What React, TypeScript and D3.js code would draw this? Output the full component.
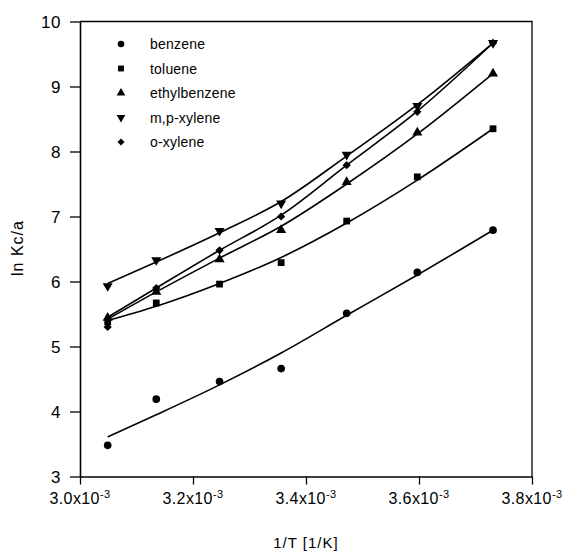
import React, { useEffect, useRef } from "react";
import * as d3 from "d3";

// 1/T values (1/K) for the measured temperatures
const invT = [3.049e-3, 3.135e-3, 3.247e-3, 3.356e-3, 3.472e-3, 3.597e-3, 3.731e-3];

// measured ln Kc/a
const benzene = [3.48, 4.19, 4.46, 4.66, 5.51, 6.14, 6.79];
const toluene = [5.38, 5.67, 5.96, 6.29, 6.93, 7.61, 8.35];
const ethylbenzene = [5.44, 5.84, 6.34, 6.79, 7.53, 8.29, 9.2];
const mpXylene = [5.93, 6.33, 6.78, 7.2, 7.95, 8.7, 9.67];
const oXylene = [5.3, 5.9, 6.48, 7.0, 7.79, 8.61, 9.67];

// fitted curves read at the same 1/T values
const benzeneFit = [3.61, 3.95, 4.41, 4.9, 5.48, 6.1, 6.79];
const tolueneFit = [5.4, 5.62, 5.97, 6.37, 6.9, 7.56, 8.35];
const ethylbenzeneFit = [5.42, 5.84, 6.36, 6.85, 7.5, 8.27, 9.2];
const mpXyleneFit = [5.97, 6.3, 6.75, 7.23, 7.93, 8.72, 9.67];
const oXyleneFit = [5.45, 5.9, 6.48, 7.02, 7.79, 8.62, 9.67];

const seriesNames = ["benzene", "toluene", "ethylbenzene", "m,p-xylene", "o-xylene"];
const xTicks = [3.0e-3, 3.2e-3, 3.4e-3, 3.6e-3, 3.8e-3];
const yTicks = [3, 4, 5, 6, 7, 8, 9, 10];

const W = 567;
const H = 558;
const FONT = "'Liberation Sans', Arial, sans-serif";

export default function App() {
  const ref = useRef<SVGSVGElement | null>(null);

  useEffect(() => {
    const svg = d3.select(ref.current);
    svg.selectAll("*").remove();

    const x = d3.scaleLinear().domain([3.0e-3, 3.8e-3]).range([80, 532]);
    const y = d3.scaleLinear().domain([3, 10]).range([476.5, 21.5]);

    const symbols = [
      d3.symbolCircle,
      d3.symbolSquare,
      d3.symbolTriangle,
      d3.symbolTriangle,
      d3.symbolSquare,
    ];
    const sizes = [46, 46, 44, 44, 34];
    const rotations = [0, 0, 0, 180, 45];

    const pts = [benzene, toluene, ethylbenzene, mpXylene, oXylene];
    const fits = [benzeneFit, tolueneFit, ethylbenzeneFit, mpXyleneFit, oXyleneFit];

    const g = svg.append("g");

    // frame (top and right)
    g.append("path")
      .attr("d", `M${x(3.0e-3)},${y(10)}H${x(3.8e-3)}V${y(3)}`)
      .attr("fill", "none")
      .attr("stroke", "#000")
      .attr("stroke-width", 1.3);

    // x axis
    const xAxis = g.append("g")
      .attr("transform", `translate(0, ${y(3)})`)
      .call(d3.axisBottom(x).tickValues(xTicks).tickSizeInner(8).tickSizeOuter(0).tickFormat(() => ""));
    xAxis.select(".domain").attr("stroke-width", 1.6);
    xAxis.selectAll("line").attr("stroke-width", 1.3);

    // y axis
    const yAxis = g.append("g")
      .attr("transform", `translate(${x(3.0e-3)}, 0)`)
      .call(d3.axisLeft(y).tickValues(yTicks).tickSizeInner(10).tickSizeOuter(0).tickFormat(() => ""));
    yAxis.select(".domain").attr("stroke-width", 1.6);
    yAxis.selectAll("line").attr("stroke-width", 1.3);

    // x tick labels with superscript exponent
    xTicks.forEach((t) => {
      const txt = g.append("text")
        .attr("x", x(t))
        .attr("y", 504)
        .attr("text-anchor", "middle")
        .attr("font-family", FONT)
        .attr("font-size", 16)
        .attr("letter-spacing", 0.4)
        .attr("fill", "#000");
      txt.append("tspan").text(`${(t * 1000).toFixed(1)}x10`);
      txt.append("tspan").attr("font-size", 11).attr("dy", -6).text("-3");
    });

    // y tick labels
    yTicks.forEach((t) => {
      g.append("text")
        .attr("x", 61)
        .attr("y", y(t) + 6)
        .attr("text-anchor", "end")
        .attr("font-family", FONT)
        .attr("font-size", 17)
        .attr("letter-spacing", 0.5)
        .attr("fill", "#000")
        .text(t);
    });

    // axis titles
    g.append("text")
      .attr("x", 306)
      .attr("y", 548)
      .attr("text-anchor", "middle")
      .attr("font-family", FONT)
      .attr("font-size", 15)
      .attr("letter-spacing", 1)
      .text("1/T [1/K]");
    g.append("text")
      .attr("transform", `translate(23, 248) rotate(-90)`)
      .attr("text-anchor", "middle")
      .attr("font-family", FONT)
      .attr("font-size", 16)
      .attr("letter-spacing", 1)
      .text("ln Kc/a");

    // fitted curves
    const line = d3.line<number>()
      .x((_, i) => x(invT[i]))
      .y((d) => y(d))
      .curve(d3.curveMonotoneX);
    fits.forEach((f) => {
      g.append("path")
        .attr("d", line(f))
        .attr("fill", "none")
        .attr("stroke", "#000")
        .attr("stroke-width", 1.6);
    });

    // markers
    pts.forEach((p, s) => {
      const sym = d3.symbol().type(symbols[s]).size(sizes[s]);
      g.append("g")
        .selectAll("path")
        .data(p)
        .join("path")
        .attr("d", sym)
        .attr("transform", (d, i) => `translate(${x(invT[i])}, ${y(d)}) rotate(${rotations[s]})`)
        .attr("fill", "#000");
    });

    // legend
    seriesNames.forEach((name, s) => {
      const ly = 44 + s * 24.5;
      const sym = d3.symbol().type(symbols[s]).size(sizes[s] * 0.75);
      g.append("path")
        .attr("d", sym())
        .attr("transform", `translate(121, ${ly}) rotate(${rotations[s]})`)
        .attr("fill", "#000");
      g.append("text")
        .attr("x", 150)
        .attr("y", ly + 5)
        .attr("font-family", FONT)
        .attr("font-size", 14)
        .attr("letter-spacing", 0.2)
        .attr("fill", "#000")
        .text(name);
    });
  }, []);

  return (
    <div style={{ position: "absolute", left: 0, top: 0, width: W, height: H, background: "#fff" }}>
      <svg ref={ref} width={W} height={H} />
    </div>
  );
}
